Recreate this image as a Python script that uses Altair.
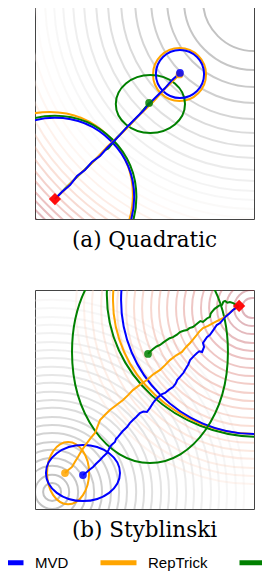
import altair as alt
import pandas as pd

PX = 21.9  # pixels per data unit (219 px plot / 10 units)

methods = ["MVD", "RepTrick", "Score"]
method_colors = ["#0000ff", "#ffa500", "#008000"]

# ---------------- (a) Quadratic ----------------
q_center = [10.0, 10.0]
q_contour_r = [2.33, 3.20, 3.97, 4.70, 5.43, 6.07, 6.67, 7.21, 7.76, 8.26, 8.72, 9.13,
               9.54, 9.95, 10.32, 10.68, 11.05, 11.42, 11.74, 12.05, 12.37, 12.69, 12.97,
               13.29, 13.56, 13.84, 14.11, 14.38]
q_start = [0.91, 0.91]
q_paths = {
    "Score": ([0.91, 1.40, 2.00, 2.62, 3.20, 3.35, 3.75, 4.25, 4.78, 5.21],
              [0.91, 1.42, 2.00, 2.58, 3.15, 3.22, 3.72, 4.22, 4.78, 5.30]),
    "RepTrick": ([0.91, 1.30, 1.90, 2.60, 3.30, 4.00, 4.70, 5.40, 6.00, 6.60],
                 [0.91, 1.28, 1.92, 2.55, 3.30, 3.95, 4.68, 5.35, 6.02, 6.60]),
    "MVD": ([0.91, 1.23, 1.60, 1.92, 2.28, 2.60, 2.97, 3.29, 3.52, 3.88, 4.25, 4.61,
             4.93, 5.25, 5.57, 5.94, 6.26, 6.62],
            [0.91, 1.23, 1.55, 1.96, 2.24, 2.60, 2.88, 3.24, 3.47, 3.84, 4.25, 4.61,
             4.93, 5.30, 5.62, 5.98, 6.35, 6.67]),
}
q_ell_method = ["RepTrick", "Score", "MVD", "RepTrick", "Score", "MVD"]
q_ell_cx = [0.68, 0.91, 0.91, 6.60, 5.27, 6.62]
q_ell_cy = [1.10, 1.00, 1.00, 6.60, 5.25, 6.62]
q_ell_rx = [3.79, 3.72, 3.62, 1.21, 1.58, 1.10]
q_ell_ry = [3.79, 3.72, 3.62, 1.21, 1.32, 1.10]

# ---------------- (b) Styblinski ----------------
s_gray_center = [0.78, 0.78]
s_gray_r = [0.41, 0.78, 1.19, 1.55, 1.92, 2.28, 2.69, 3.06, 3.42, 3.84, 4.20, 4.57,
            4.98, 5.34, 5.71, 6.12, 6.48, 6.85, 7.26, 7.63, 7.99, 8.40, 8.77]
s_red_center = [9.91, 9.18]
s_red_r = [0.46, 0.82, 1.19, 1.60, 1.96, 2.33, 2.74, 3.11, 3.47, 3.88, 4.25, 4.61,
           5.02, 5.39, 5.75, 6.16, 6.53, 6.89, 7.31, 7.67, 8.04]
s_start = [9.32, 9.27]
s_paths = {
    "Score": ([9.32, 9.18, 9.05, 8.90, 8.78, 8.68, 8.60, 8.54, 8.42, 8.31, 8.20, 8.08,
               8.02, 7.99, 7.85, 7.67, 7.55, 7.44, 7.30, 7.21, 7.05, 6.94, 6.78, 6.62,
               6.48, 6.30, 6.15, 6.03, 5.88, 5.71, 5.55, 5.39, 5.25, 5.16],
              [9.27, 9.32, 9.40, 9.45, 9.42, 9.50, 9.46, 9.32, 9.30, 9.22, 9.14, 9.00,
               8.92, 8.77, 8.70, 8.54, 8.58, 8.49, 8.38, 8.31, 8.26, 8.17, 8.14, 8.08,
               7.96, 7.85, 7.80, 7.72, 7.62, 7.49, 7.42, 7.31, 7.18, 7.08]),
    "RepTrick": ([9.32, 9.18, 9.04, 8.80, 8.58, 8.35, 8.13, 7.90, 7.67, 7.50, 7.35, 7.22,
                  7.08, 6.90, 6.71, 6.45, 6.16, 5.95, 5.71, 5.40, 5.11, 4.80, 4.47, 4.25,
                  4.02, 3.72, 3.42, 3.20, 2.97, 2.85, 2.74, 2.55, 2.37, 2.15, 1.96, 1.82,
                  1.69, 1.52, 1.37],
                 [9.27, 9.17, 9.09, 8.88, 8.72, 8.60, 8.49, 8.36, 8.26, 8.10, 7.90, 7.75,
                  7.58, 7.40, 7.17, 7.02, 6.80, 6.58, 6.35, 6.15, 5.89, 5.68, 5.43, 5.20,
                  4.98, 4.75, 4.52, 4.30, 4.06, 3.75, 3.47, 3.25, 3.01, 2.70, 2.37, 2.15,
                  1.92, 1.78, 1.64]),
    "MVD": ([9.32, 9.18, 9.04, 8.85, 8.70, 8.45, 8.30, 8.15, 7.99, 7.85, 7.67, 7.72,
             7.63, 7.50, 7.40, 7.25, 7.08, 7.00, 6.85, 6.78, 6.62, 6.50, 6.42, 6.30,
             6.12, 5.94, 5.80, 5.62, 5.50, 5.39, 5.25, 5.11, 4.95, 4.79, 4.62, 4.47,
             4.33, 4.20, 4.00, 3.79, 3.70, 3.65, 3.52, 3.42, 3.36, 3.29, 3.12, 2.97,
             2.80, 2.65, 2.50, 2.37, 2.19],
            [9.27, 9.18, 9.09, 8.90, 8.78, 8.49, 8.40, 8.18, 7.95, 7.85, 7.58, 7.40,
             7.17, 7.20, 7.12, 6.98, 6.80, 6.60, 6.35, 6.22, 6.03, 5.90, 5.72, 5.57,
             5.45, 5.30, 5.25, 5.11, 4.98, 4.84, 4.62, 4.43, 4.45, 4.38, 4.20, 4.06,
             3.92, 3.74, 3.55, 3.29, 3.20, 3.06, 2.95, 2.83, 2.70, 2.56, 2.40, 2.24,
             2.08, 1.92, 1.80, 1.69, 1.55]),
}
s_ell_method = ["Score", "RepTrick", "MVD", "Score", "RepTrick", "MVD"]
s_ell_cx = [10.27, 10.09, 10.05, 5.25, 1.51, 2.19]
s_ell_cy = [9.77, 9.54, 9.54, 7.17, 1.64, 1.64]
s_ell_rx = [6.99, 6.53, 6.12, 3.56, 0.96, 1.69]
s_ell_ry = [6.48, 6.12, 6.12, 5.07, 1.42, 1.28]


# ---------------- table builders ----------------
def ellipse_table(m, cx, cy, rx, ry):
    rows = []
    for mm, x, y, a, b in zip(m, cx, cy, rx, ry):
        big = max(a, b)
        ua, ub = a / big, b / big
        path = (f"M {-ua:.4f} 0 A {ua:.4f} {ub:.4f} 0 1 0 {ua:.4f} 0 "
                f"A {ua:.4f} {ub:.4f} 0 1 0 {-ua:.4f} 0 Z")
        rows.append({"method": mm, "x": x, "y": y, "path": path,
                     "size": (2 * big * PX) ** 2})
    return pd.DataFrame(rows)


def ring_table(center, radii, kind, fade):
    rows = []
    for r in radii:
        if kind == "quad":
            level = r * r / 200.0
        elif kind == "low":
            level = 0.5 * min(r / fade, 1.0)
        else:
            level = 1.0 - 0.5 * min(r / fade, 1.0)
        rows.append({"x": center[0], "y": center[1], "size": (2 * r * PX) ** 2,
                     "level": level})
    return pd.DataFrame(rows)


def path_table(paths):
    rows = []
    for m, (xs, ys) in paths.items():
        for i, (x, y) in enumerate(zip(xs, ys)):
            rows.append({"method": m, "i": i, "x": x, "y": y})
    return pd.DataFrame(rows)


legend = alt.Legend(title=None, orient="none", direction="horizontal",
                    legendX=-50, legendY=542, padding=0, symbolType="stroke",
                    symbolSize=1296, symbolStrokeWidth=5, symbolOpacity=1,
                    labelFont="Liberation Sans", labelFontSize=15,
                    labelColor="black", labelOffset=9, columnPadding=21,
                    labelExpr="datum.label == 'Score' ? '' : datum.label")
color_scale = alt.Scale(domain=methods, range=method_colors)


def panel(rings, ells, paths, start, caption):
    X = alt.X("x:Q", scale=alt.Scale(domain=[0, 10], nice=False, zero=False), axis=None)
    Y = alt.Y("y:Q", scale=alt.Scale(domain=[0, 10], nice=False, zero=False), axis=None)
    C = alt.Color("method:N", scale=color_scale, legend=legend)
    layers = []
    layers.append(
        alt.Chart(rings).mark_point(shape="circle", filled=False, clip=True,
                                    strokeWidth=2, opacity=1, strokeOpacity=0.32)
        .encode(x=X, y=Y, size=alt.Size("size:Q", scale=None),
                stroke=alt.Stroke("level:Q", legend=None,
                                  scale=alt.Scale(scheme="redgrey", reverse=True,
                                                  domain=[0, 1])))
    )
    layers.append(
        alt.Chart(ells).mark_point(filled=False, clip=True, strokeWidth=2, opacity=1)
        .encode(x=X, y=Y, size=alt.Size("size:Q", scale=None),
                shape=alt.Shape("path:N", scale=None), color=C)
    )
    pt = path_table(paths)
    ends = pt.sort_values("i").groupby("method").tail(1)
    for m in ["Score", "RepTrick", "MVD"]:
        layers.append(
            alt.Chart(pt[pt.method == m]).mark_line(strokeWidth=2, clip=True)
            .encode(x=X, y=Y, order="i:Q", color=C)
        )
    layers.append(
        alt.Chart(ends).mark_point(shape="circle", filled=True, size=60, opacity=0.85,
                                   strokeWidth=1)
        .encode(x=X, y=Y, color=C)
    )
    layers.append(
        alt.Chart(pd.DataFrame({"x": [start[0]], "y": [start[1]]}))
        .mark_point(shape="diamond", filled=True, size=150, color="#ff0000", opacity=0.95)
        .encode(x=X, y=Y)
    )
    return alt.layer(*layers).properties(
        width=219, height=219,
        title=alt.TitleParams(caption, orient="bottom", anchor="middle",
                              font="DejaVu Serif", fontSize=21.5, fontWeight="normal",
                              color="black", offset=11),
    )


p1 = panel(ring_table(q_center, q_contour_r, "quad", 1),
           ellipse_table(q_ell_method, q_ell_cx, q_ell_cy, q_ell_rx, q_ell_ry),
           q_paths, q_start, "(a) Quadratic")
rings2 = pd.concat([ring_table(s_gray_center, s_gray_r, "low", 10.0),
                    ring_table(s_red_center, s_red_r, "high", 10.0)])
p2 = panel(rings2,
           ellipse_table(s_ell_method, s_ell_cx, s_ell_cy, s_ell_rx, s_ell_ry),
           s_paths, s_start, "(b) Styblinski")

# fixed canvas 254 x 566 px (219 px layout width + 27 + 8 padding)
chart = (
    alt.vconcat(p1, p2, spacing=71, bounds="flush")
    .resolve_scale(stroke="independent")
    .configure_view(stroke="#444444", strokeWidth=1)
    .properties(autosize=alt.AutoSizeParams(type="none"),
                padding={"left": 27, "top": -8, "right": 8, "bottom": 574},
                background="white")
)

chart.save("out.html", embed_options={"renderer": "svg", "actions": False})
